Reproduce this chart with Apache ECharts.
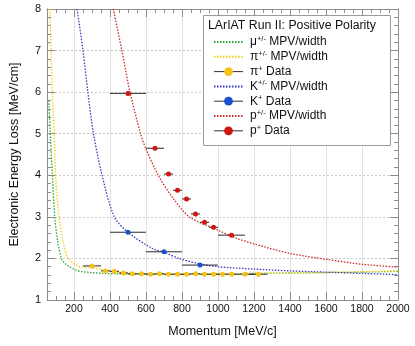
<!DOCTYPE html>
<html>
<head>
<meta charset="utf-8">
<script src="https://cdn.jsdelivr.net/npm/echarts@6/dist/echarts.min.js"></script>
<style>
  html, body { margin: 0; padding: 0; background: #fff; }
  #chart { width: 415px; height: 346px; }
</style>
</head>
<body>
<div id="chart"></div>
<script>
// MPV curves, momentum [MeV/c] vs dE/dx [MeV/cm]
const muonP = [60, 70, 80, 93, 110, 130, 150, 176, 210, 250, 300, 360, 450, 600, 800, 1000, 1200, 1400, 1600, 1800, 2000]
const muonDEdx = [5.8, 4.85, 4.0, 3.0, 2.4, 2.0, 1.88, 1.8, 1.72, 1.68, 1.66, 1.64, 1.63, 1.62, 1.62, 1.63, 1.64, 1.65, 1.66, 1.67, 1.69]

const pionP = [66, 73, 80, 90, 98, 117, 140, 167, 200, 231, 300, 375, 425, 500, 600, 800, 1000, 1200, 1400, 1600, 1800, 2000]
const pionDEdx = [8.0, 7.0, 6.0, 5.0, 4.0, 3.0, 2.4, 2.0, 1.88, 1.8, 1.78, 1.71, 1.68, 1.65, 1.63, 1.62, 1.63, 1.64, 1.65, 1.66, 1.68, 1.70]

const kaonP = [217, 250, 277, 308, 356, 424, 500, 635, 700, 782, 900, 1000, 1200, 1400, 1600, 1800, 2000]
const kaonDEdx = [8.0, 7.0, 6.0, 5.0, 4.0, 3.0, 2.63, 2.24, 2.15, 2.0, 1.87, 1.8, 1.745, 1.7, 1.67, 1.64, 1.61]

const protonP = [418, 466, 511, 570, 598, 668, 745, 841, 1000, 1100, 1200, 1400, 1600, 1800, 2000]
const protonDEdx = [8.0, 7.0, 6.0, 5.0, 4.65, 4.0, 3.48, 3.0, 2.68, 2.49, 2.35, 2.12, 1.98, 1.86, 1.79]

// measured points: centre, half bin width, dE/dx
const pionDataP = [300, 375, 425, 475, 525, 575, 625, 675, 725, 775, 825, 875, 925, 975, 1025, 1075, 1150, 1225]
const pionDataErr = [50, 25, 25, 25, 25, 25, 25, 25, 25, 25, 25, 25, 25, 25, 25, 25, 50, 50]
const pionDataDEdx = [1.82, 1.70, 1.69, 1.65, 1.63, 1.63, 1.62, 1.63, 1.62, 1.62, 1.62, 1.63, 1.62, 1.62, 1.62, 1.62, 1.62, 1.62]

const kaonDataP = [500, 700, 900]
const kaonDataErr = [100, 100, 100]
const kaonDataDEdx = [2.63, 2.16, 1.84]

const protonDataP = [500, 650, 725, 775, 825, 875, 925, 975, 1075]
const protonDataErr = [100, 50, 25, 25, 25, 25, 25, 25, 75]
const protonDataDEdx = [5.97, 4.65, 4.03, 3.64, 3.43, 3.07, 2.87, 2.75, 2.56]

const majorTicks = [200, 400, 600, 800, 1000, 1200, 1400, 1600, 1800, 2000]

const FONT = 'Liberation Sans'
const legendLabels = {
  'mu': '{t|μ}{s|+/-}{t| MPV/width}',
  'pi': '{t|π}{s|+/-}{t| MPV/width}',
  'piData': '{t|π}{s|+}{t| Data}',
  'k': '{t|K}{s|+/-}{t| MPV/width}',
  'kData': '{t|K}{s|+}{t| Data}',
  'p': '{t|p}{s|+/-}{t| MPV/width}',
  'pData': '{t|p}{s|+}{t| Data}'
}

function zip(a, b) {
  return a.map((v, i) => [v, b[i]])
}

function curve(name, xs, ys, color) {
  return {
    name: name,
    type: 'line',
    data: zip(xs, ys),
    smooth: 0.3,
    showSymbol: false,
    symbol: 'none',
    clip: true,
    z: 2,
    color: color,
    lineStyle: { color: color, width: 1.3, type: [1.5, 1.5] }
  }
}

function points(name, xs, ys, color) {
  return {
    name: name,
    type: 'line',
    data: zip(xs, ys),
    symbol: 'circle',
    symbolSize: 5,
    color: color,
    itemStyle: { color: color },
    lineStyle: { opacity: 0 },
    z: 5
  }
}

function errBars(xs, errs, ys) {
  return {
    type: 'custom',
    name: 'err',
    data: xs.map((v, i) => [v - errs[i], v + errs[i], ys[i]]),
    encode: { x: [0, 1], y: 2 },
    z: 4,
    renderItem: function(params, api) {
      const lo = api.coord([api.value(0), api.value(2)])
      const hi = api.coord([api.value(1), api.value(2)])
      return {
        type: 'line',
        shape: { x1: lo[0], y1: lo[1], x2: hi[0], y2: hi[1] },
        style: { stroke: '#2a2a2a', lineWidth: 1 }
      }
    }
  }
}

const chart = echarts.init(document.getElementById('chart'))
const axisGrey = '#8c8c8c'
const dataLegendLine = { color: '#333', width: 1, opacity: 1, type: 'solid' }
const noSymbol = { opacity: 0 }

chart.setOption({
  backgroundColor: '#fff',
  animation: false,
  textStyle: { fontFamily: FONT },
  grid: { left: 44, right: 17, top: 9, bottom: 46 },
  xAxis: [{
    type: 'value',
    min: 50,
    max: 2000,
    name: 'Momentum [MeV/c]',
    nameLocation: 'middle',
    nameGap: 25,
    nameTextStyle: { fontSize: 12.5, color: '#111', fontFamily: FONT },
    axisLine: { lineStyle: { color: axisGrey } },
    axisTick: { inside: true, length: 8, customValues: majorTicks, lineStyle: { color: axisGrey } },
    axisLabel: { customValues: majorTicks, formatter: v => String(v), fontSize: 10.5, color: '#111', margin: 4, fontFamily: FONT },
    splitLine: { show: true, lineStyle: { color: '#e2e2e2', width: 1 } }
  }, {
    // minor ticks every 50
    type: 'value', min: 50, max: 2000, interval: 50, position: 'bottom',
    axisLine: { show: false },
    axisTick: { inside: true, length: 4, lineStyle: { color: axisGrey } },
    axisLabel: { show: false },
    splitLine: { show: false }
  }, {
    type: 'value', min: 50, max: 2000, position: 'top',
    axisLine: { show: true, lineStyle: { color: axisGrey } },
    axisTick: { inside: true, length: 8, customValues: majorTicks, lineStyle: { color: axisGrey } },
    axisLabel: { show: false },
    splitLine: { show: false }
  }, {
    type: 'value', min: 50, max: 2000, interval: 50, position: 'top',
    axisLine: { show: false },
    axisTick: { inside: true, length: 4, lineStyle: { color: axisGrey } },
    axisLabel: { show: false },
    splitLine: { show: false }
  }],
  yAxis: [{
    type: 'value',
    min: 1,
    max: 8,
    interval: 1,
    name: 'Electronic Energy Loss [MeV/cm]',
    nameLocation: 'middle',
    nameGap: 26,
    nameTextStyle: { fontSize: 12.5, color: '#111', fontFamily: FONT },
    axisLine: { show: true, lineStyle: { color: axisGrey } },
    axisTick: { inside: true, length: 8, lineStyle: { color: axisGrey } },
    minorTick: { show: true, splitNumber: 5, length: 4, lineStyle: { color: axisGrey } },
    axisLabel: { fontSize: 11, color: '#111', margin: 6, fontFamily: FONT },
    splitLine: { show: true, lineStyle: { color: '#c8c8c8', type: [2, 2] } }
  }, {
    type: 'value', min: 1, max: 8, interval: 1, position: 'right',
    axisLine: { show: true, lineStyle: { color: axisGrey } },
    axisTick: { inside: true, length: 8, lineStyle: { color: axisGrey } },
    minorTick: { show: true, splitNumber: 5, length: 4, lineStyle: { color: axisGrey } },
    axisLabel: { show: false },
    splitLine: { show: false }
  }],
  legend: {
    orient: 'vertical',
    left: 213,
    top: 35,
    z: 20,
    itemWidth: 29,
    itemHeight: 11,
    itemGap: 1.8,
    padding: 0,
    textStyle: {
      color: '#111',
      fontFamily: FONT,
      padding: [0, 0, 0, 2],
      rich: {
        t: { fontSize: 12, fontFamily: FONT, color: '#111' },
        s: { fontSize: 7.5, fontFamily: FONT, color: '#111', padding: [0, 0, 6, 0] }
      }
    },
    formatter: name => legendLabels[name],
    data: [
      { name: 'mu', itemStyle: noSymbol },
      { name: 'pi', itemStyle: noSymbol },
      { name: 'piData', lineStyle: dataLegendLine },
      { name: 'k', itemStyle: noSymbol },
      { name: 'kData', lineStyle: dataLegendLine },
      { name: 'p', itemStyle: noSymbol },
      { name: 'pData', lineStyle: dataLegendLine }
    ]
  },
  graphic: [{
    type: 'rect',
    z: 15,
    shape: { x: 203.5, y: 15.5, width: 187, height: 130 },
    style: { fill: '#fff', stroke: '#9a9a9a', lineWidth: 1 }
  }, {
    type: 'text',
    z: 16,
    left: 208,
    top: 20,
    style: { text: 'LArIAT Run II: Positive Polarity', fontSize: 12.3, fontFamily: FONT, fill: '#111' }
  }],
  series: [
    curve('mu', muonP, muonDEdx, '#2fa82f'),
    curve('pi', pionP, pionDEdx, '#f0d20a'),
    curve('k', kaonP, kaonDEdx, '#3a3ac0'),
    curve('p', protonP, protonDEdx, '#cc2a2a'),
    errBars(pionDataP, pionDataErr, pionDataDEdx),
    errBars(kaonDataP, kaonDataErr, kaonDataDEdx),
    errBars(protonDataP, protonDataErr, protonDataDEdx),
    points('piData', pionDataP, pionDataDEdx, '#f5c21b'),
    points('kData', kaonDataP, kaonDataDEdx, '#1a4fd0'),
    points('pData', protonDataP, protonDataDEdx, '#d21414')
  ]
})
</script>
</body>
</html>
